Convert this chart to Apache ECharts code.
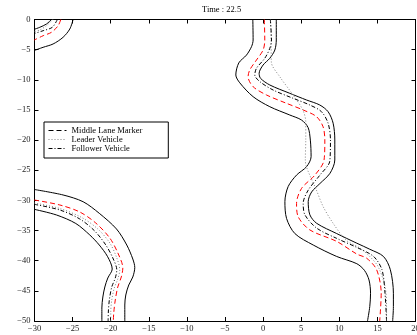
<!DOCTYPE html>
<html>
<head>
<meta charset="utf-8">
<script src="https://cdn.jsdelivr.net/npm/echarts@6/dist/echarts.min.js"></script>
<style>
  html, body { margin: 0; padding: 0; background: #fff; }
  #chart { width: 417px; height: 335px; }
</style>
</head>
<body>
<div id="chart"></div>
<script>
// axis ticks
const xTicks = [-30, -25, -20, -15, -10, -5, 0, 5, 10, 15, 20]
const yTicks = [-50, -45, -40, -35, -30, -25, -20, -15, -10, -5, 0]
const timeLabel = 'Time : 22.5'

// road piece in the top-left corner
const tlOuter = [[-24.93, 0], [-25.37, -1.58], [-26.25, -2.95], [-27.56, -4.06], [-28.87, -4.61], [-30.03, -5.14]]
const tlInner = [[-27.77, 0], [-28.43, -0.75], [-29.3, -1.29], [-30.03, -1.63]]
const tlMiddle = [[-26.55, 0], [-26.9, -1.03], [-27.77, -2.12], [-28.87, -2.69], [-30.03, -3.4]]
const tlLeader = [[-27.6, 0], [-28.43, -1.03], [-29.3, -1.74], [-30.03, -1.99]]
const tlFollower = [[-27.0, 0], [-27.66, -1.29], [-28.87, -1.86], [-30.03, -2.32]]

// road piece in the bottom-left
const blOuter = [[-30.03, -28.19], [-26.25, -29.1], [-23.62, -30.22], [-21.5, -32.14], [-19.24, -34.74], [-17.89, -37.4],
  [-17.1, -39.72], [-16.84, -41.13], [-17.1, -42.7], [-17.63, -44.03], [-18.02, -45.69], [-18.15, -47.35], [-18.15, -50]]
const blInner = [[-30.03, -31.48], [-27.11, -32.42], [-24.58, -33.83], [-22.74, -35.74], [-21.5, -37.4], [-20.4, -39.34],
  [-19.8, -41.38], [-20.38, -42.87], [-20.77, -44.36], [-21.03, -46.02], [-21.16, -47.84], [-21.16, -50]]
const blMiddle = [[-30.03, -29.93], [-26.68, -30.76], [-24.06, -31.92], [-21.96, -33.75], [-20.12, -36.24], [-19.0, -38.89],
  [-18.41, -41.21], [-18.61, -42.7], [-19.07, -44.36], [-19.4, -46.52], [-19.59, -48.51], [-19.66, -50]]
const blLeader = [[-30.03, -30.43], [-26.68, -31.34], [-23.8, -32.84], [-21.69, -34.74], [-20.12, -37.06], [-19.2, -39.55],
  [-18.81, -41.54], [-19.07, -43.03], [-19.53, -44.53], [-19.86, -46.52], [-19.99, -48.51], [-19.99, -50]]
const blFollower = [[-30.03, -30.65], [-26.68, -31.59], [-24.06, -33.08], [-22.1, -35.07], [-20.64, -37.4], [-19.72, -39.55],
  [-19.2, -41.54], [-19.4, -42.87], [-19.86, -44.36], [-20.18, -46.52], [-20.31, -48.51], [-20.34, -50]]

// the long S-shaped road on the right
const rOuter = [[1.73, 0], [1.73, -3.4], [1.54, -5.06], [0.88, -6.43], [0, -7.55], [-0.52, -8.92], [-0.34, -9.75],
  [0.88, -10.86], [3.5, -12.24], [5.7, -13.35], [7.44, -14.18], [8.53, -15.29], [9.19, -17.2], [9.41, -19.98],
  [9.41, -23.3], [8.78, -25.5], [7.46, -27.2], [6.37, -28.6], [5.92, -30.2], [6.14, -32.4], [7.03, -33.8],
  [9.66, -35.5], [12.3, -37.1], [14.0, -38.1], [15.8, -39.3], [16.7, -41.5], [17.1, -45.4], [17.1, -47.6], [17.0, -50]]
const rInner = [[-1.35, 0], [-1.31, -3.4], [-1.52, -4.5], [-2.18, -5.9], [-3.19, -7.2], [-3.58, -9.2], [-3.06, -10.5],
  [-1.31, -12.8], [0.88, -14.46], [3.5, -15.84], [5.04, -16.67], [5.9, -17.9], [6.2, -20], [6.3, -22.75],
  [5.71, -24.4], [4.39, -25.8], [3.29, -27.7], [2.86, -30.2], [3.08, -33.0], [4.17, -35.5], [6.58, -37.4],
  [9.66, -39.3], [12.3, -40.5], [13.3, -41.6], [13.9, -43.2], [14.1, -45.4], [14.0, -47.6], [13.7, -50]]
const rMiddle = [[0.16, 0], [0.22, -3.4], [0, -5.06], [-0.87, -6.72], [-1.75, -8.37], [-1.97, -9.49], [-1.31, -11.14],
  [0.45, -12.52], [3.07, -13.9], [5.25, -15.0], [7.0, -16.1], [7.87, -17.78], [8.1, -19.98], [8.0, -23.3],
  [6.8, -25.8], [5.05, -28.0], [4.39, -30.5], [4.6, -32.7], [6.14, -34.9], [9.66, -36.8], [12.3, -38.9],
  [13.6, -39.6], [14.9, -41.5], [15.5, -45.4], [15.3, -50]]
const rLeader = [[0.97, 0], [1.05, -3.4], [1.08, -7.05], [2.19, -9.49], [3.94, -12.52], [5.21, -15.0], [5.6, -17.0],
  [5.6, -19.98], [5.54, -23.3], [5.73, -24.6], [7.0, -28.3], [7.87, -31.0], [9.19, -33.8], [10.9, -36.6],
  [12.7, -37.9], [14.0, -39.3], [15.1, -41.0], [16.0, -44.3], [16.2, -47.6], [16.2, -50]]
const rFollower = [[0.95, 0], [1.1, -3.4], [0.88, -4.78], [0.22, -6.43], [-0.87, -8.09], [-1.09, -9.2], [-0.43, -10.3],
  [1.31, -11.69], [3.94, -13.07], [6.13, -14.18], [7.66, -15.29], [8.53, -17.2], [8.84, -19.98], [8.75, -23.5],
  [7.46, -25.8], [5.92, -28.3], [5.26, -30.5], [5.49, -32.4], [7.03, -34.6], [9.66, -36.3], [12.3, -37.8],
  [14.5, -39.3], [15.6, -41.5], [16.0, -45.4], [16.2, -50]]

const roads = [
  { outer: tlOuter, inner: tlInner, middle: tlMiddle, leader: tlLeader, follower: tlFollower },
  { outer: blOuter, inner: blInner, middle: blMiddle, leader: blLeader, follower: blFollower },
  { outer: rOuter, inner: rInner, middle: rMiddle, leader: rLeader, follower: rFollower },
]

const FONT = 'Liberation Serif'
const minusFmt = (v) => String(v).replace('-', '\u2212')

const makeLine = (name, data, lineStyle, z) => ({
  type: 'line',
  name: name,
  data: data,
  symbol: 'none',
  showSymbol: false,
  smooth: 0.3,
  silent: true,
  clip: true,
  z: z,
  lineStyle: lineStyle,
})

const edgeStyle = { color: '#000', width: 1, type: 'solid' }
const markerStyle = { color: '#ff0000', width: 1, type: [5, 3] }
const leaderStyle = { color: '#808080', width: 1, type: [1, 2] }
const followerStyle = { color: '#000', width: 1, type: [4, 2, 1, 2] }

const series = []
roads.forEach((r) => {
  series.push(makeLine('Road Edge', r.outer, edgeStyle, 2))
  series.push(makeLine('Road Edge', r.inner, edgeStyle, 2))
  series.push(makeLine('Middle Lane Marker', r.middle, markerStyle, 3))
  series.push(makeLine('Leader Vehicle', r.leader, leaderStyle, 4))
  series.push(makeLine('Follower Vehicle', r.follower, followerStyle, 5))
})

const axisCommon = {
  type: 'value',
  interval: 5,
  axisLine: { show: true, onZero: false, lineStyle: { color: '#000', width: 1 } },
  axisTick: { show: true, inside: true, length: 4, lineStyle: { color: '#000' } },
  splitLine: { show: false },
}

const chart = echarts.init(document.getElementById('chart'))
chart.setOption({
  animation: false,
  backgroundColor: '#fff',
  title: {
    text: timeLabel,
    left: 202,
    top: 5,
    padding: 0,
    textStyle: { fontFamily: FONT, fontSize: 8.5, fontWeight: 'normal', color: '#000' },
  },
  grid: { left: 34.5, right: 1.5, top: 19.5, bottom: 14, containLabel: false, outerBoundsMode: 'none' },
  legend: {
    orient: 'vertical',
    left: 44,
    top: 122,
    padding: [4, 26, 5, 4],
    itemGap: 0,
    itemWidth: 18,
    itemHeight: 8,
    borderColor: '#000',
    borderWidth: 1,
    backgroundColor: '#fff',
    itemStyle: { opacity: 0 },
    lineStyle: { width: 1 },
    textStyle: { fontFamily: FONT, fontSize: 8.5, color: '#000', padding: [0, 0, 0, 0] },
    data: [
      { name: 'Middle Lane Marker', lineStyle: { color: '#000', width: 1 } },
      { name: 'Leader Vehicle', lineStyle: { width: 1 } },
      { name: 'Follower Vehicle', lineStyle: { width: 1 } },
    ],
  },
  xAxis: [
    Object.assign({}, axisCommon, {
      position: 'bottom', min: xTicks[0], max: xTicks[xTicks.length - 1],
      axisLabel: { margin: 3, fontFamily: FONT, fontSize: 8.5, color: '#222', formatter: minusFmt, hideOverlap: false },
    }),
    Object.assign({}, axisCommon, {
      position: 'top', min: xTicks[0], max: xTicks[xTicks.length - 1],
      axisLabel: { show: false },
    }),
  ],
  yAxis: [
    Object.assign({}, axisCommon, {
      position: 'left', min: yTicks[0], max: yTicks[yTicks.length - 1],
      axisLabel: { margin: 4, fontFamily: FONT, fontSize: 8.5, color: '#222', formatter: minusFmt, hideOverlap: false },
    }),
    Object.assign({}, axisCommon, {
      position: 'right', min: yTicks[0], max: yTicks[yTicks.length - 1],
      axisLabel: { show: false },
    }),
  ],
  series: series,
})
</script>
</body>
</html>
